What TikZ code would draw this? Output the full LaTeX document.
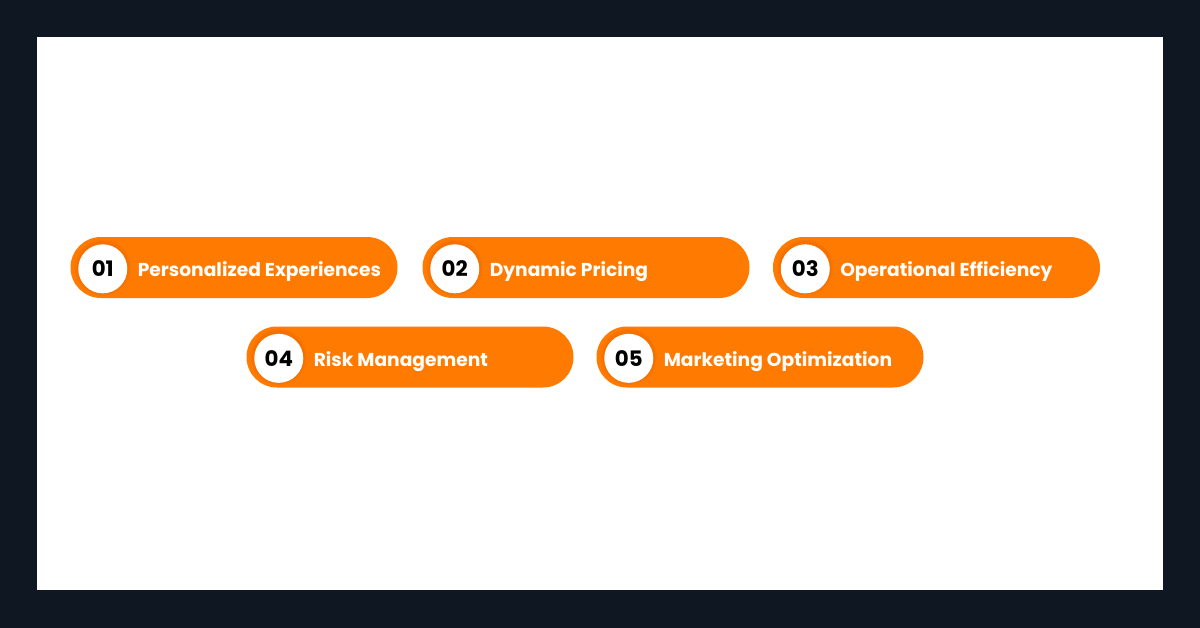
\documentclass[tikz,border=0pt]{standalone}
\usepackage{fontspec}
\setmainfont{Poppins}
\usetikzlibrary{positioning}

\definecolor{framedark}{HTML}{0F1722}
\definecolor{pillorange}{HTML}{FF7A00}
\definecolor{pillshade}{HTML}{D85F00}

\begin{document}
\begin{tikzpicture}[x=0.75pt, y=-0.75pt,
  pill/.style={fill=pillorange, rounded corners=22.8pt, minimum width=245.25pt,
    minimum height=45.75pt, inner sep=0pt},
  badge/.style={circle, fill=white, minimum size=36.75pt, inner sep=0pt,
    text=black, font=\bfseries\fontsize{16}{18}\selectfont},
  caption/.style={text=white, inner sep=0pt, anchor=base west,
    font=\bfseries\fontsize{14}{16}\selectfont}]

  % dark frame and white card
  \fill[framedark] (0,0) rectangle (1200,628);
  \fill[white] (37,37) rectangle (1163,590);

  % five pills, two rows
  \foreach \num/\txt/\px/\py in {01/Personalized Experiences/234/267.5,
                                 02/Dynamic Pricing/586/267.5,
                                 03/Operational Efficiency/936.5/267.5,
                                 04/Risk Management/410/357,
                                 05/Marketing Optimization/760/357}{
    \node[pill] (pill\num) at (\px,\py) {};
    \coordinate (c\num) at ([xshift=24.4pt]pill\num.west);
    \fill[pillshade, opacity=0.15] (c\num) circle (21pt);
    \fill[pillshade, opacity=0.15] (c\num) circle (19.8pt);
    \node[badge] (badge\num) at ([yshift=-1pt]c\num) {\num};
    \node[caption] (cap\num) at ([xshift=7.5pt, yshift=-6.1pt]badge\num.east) {\txt};
  }
\end{tikzpicture}
\end{document}
